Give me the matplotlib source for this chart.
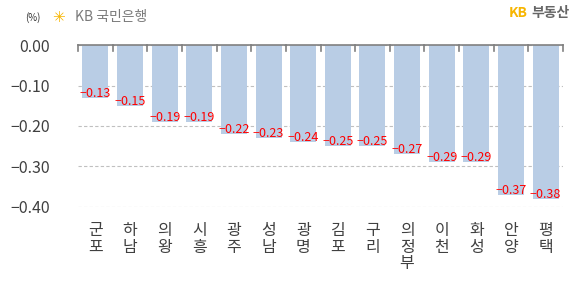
import matplotlib.pyplot as plt
import numpy as np

plt.rcParams['font.family'] = ['Noto Sans CJK KR', 'DejaVu Sans']

regions = ['군포', '하남', '의왕', '시흥', '광주', '성남', '광명', '김포', '구리', '의정부', '이천', '화성', '안양', '평택']
changes = [-0.13, -0.15, -0.19, -0.19, -0.22, -0.23, -0.24, -0.25, -0.25, -0.27, -0.29, -0.29, -0.37, -0.38]
yticks = [0.0, -0.1, -0.2, -0.3, -0.4]

fig = plt.figure(figsize=(5.87, 2.85), dpi=100)
ax = fig.add_axes([0.133, 0.274, 0.826, 0.568])

x = np.arange(len(regions))
ax.bar(x, changes, width=0.75, color='#b9cde5', zorder=2)

# value labels at the end of each bar
for xi, v in zip(x, changes):
    ax.text(xi, v + 0.011, '\u2212%.2f' % abs(v), color='#ff0000', fontsize=9,
            ha='center', va='center', zorder=3)

ax.set_xlim(-0.5, len(regions) - 0.5)
ax.set_ylim(-0.40, 0.0)
ax.set_yticks(yticks)
ax.set_yticklabels(['0.00' if t == 0 else '\u2212%.2f' % abs(t) for t in yticks],
                   fontsize=11.5, color='#404040')
ax.tick_params(axis='y', length=0, pad=20)

ax.grid(axis='y', linestyle=(0, (3, 2)), color='#c0c0c0', linewidth=0.8, zorder=0)

# stacked vertical Korean labels
ax.set_xticks(x)
ax.set_xticklabels(['\n'.join(r) for r in regions], fontsize=11.5, color='#404040',
                   linespacing=0.95, va='top')
ax.tick_params(axis='x', length=0, pad=11)

for s in ['left', 'right', 'bottom']:
    ax.spines[s].set_visible(False)
ax.spines['top'].set_color('#808080')
ax.spines['top'].set_linewidth(1.2)
ax.spines['top'].set_zorder(4)

# small boundary ticks hanging from the top axis line
for b in np.arange(-0.5, len(regions), 1.0):
    ax.plot([b, b], [0, -0.015], color='#808080', linewidth=1.2, zorder=4, clip_on=False)

# header
fig.text(0.043, 0.94, '(%)', fontsize=7, color='#333333', va='center')
fig.text(0.088, 0.94, '\u2733', fontsize=11, color='#f7b500', va='center', family='DejaVu Sans')
fig.text(0.128, 0.94, 'KB 국민은행', fontsize=10, color='#7a7a7a', va='center')
fig.text(0.866, 0.955, 'KB', fontsize=10, color='#f7b500', va='center', fontweight='bold')
fig.text(0.906, 0.955, '부동산', fontsize=10, color='#666666', va='center', fontweight='bold')

fig.savefig('out.png', dpi=100)
